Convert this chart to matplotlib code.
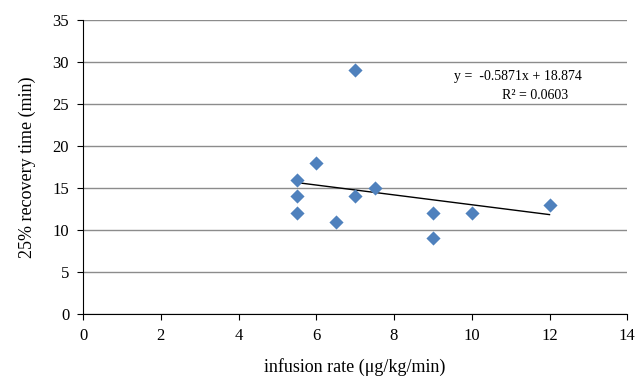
import numpy as np
import matplotlib.pyplot as plt

plt.rcParams['font.family'] = ['Liberation Serif', 'DejaVu Serif']

# data
rate = [5.5, 5.5, 5.5, 6.0, 6.5, 7.0, 7.0, 7.5, 9.0, 9.0, 10.0, 12.0]
recovery = [16, 14, 12, 18, 11, 29, 14, 15, 12, 9, 12, 13]
slope = -0.5871
intercept = 18.874
r2 = 0.0603

fig = plt.figure(figsize=(6.44, 3.8), dpi=100)
ax = fig.add_axes([0.129, 0.174, 0.845, 0.773])

ax.scatter(rate, recovery, marker='D', s=52, color='#4F81BD', zorder=3, linewidths=0)

# linear trendline over data range
xt = np.array([min(rate), max(rate)])
ax.plot(xt, slope * xt + intercept, color='black', lw=1, zorder=2)

ax.text(12.84, 27.1, f'y =  {slope}x + {intercept}\nR² = {r2}    ', ha='right', va='center',
        multialignment='right', fontsize=10, linespacing=1.6)

ax.set_xlim(0, 14)
ax.set_ylim(0, 35)
ax.set_xticks(range(0, 15, 2))
ax.set_yticks(range(0, 36, 5))
ax.grid(axis='y', color='#8c8c8c', lw=1)
ax.set_axisbelow(True)
for s in ['top', 'right']:
    ax.spines[s].set_visible(False)
ax.tick_params(direction='out', length=4, labelsize=12, pad=6)
ax.set_xlabel('infusion rate (μg/kg/min)', fontsize=13, labelpad=10)
ax.set_ylabel('25% recovery time (min)', fontsize=13, labelpad=12)

fig.savefig('out.png', dpi=100)
